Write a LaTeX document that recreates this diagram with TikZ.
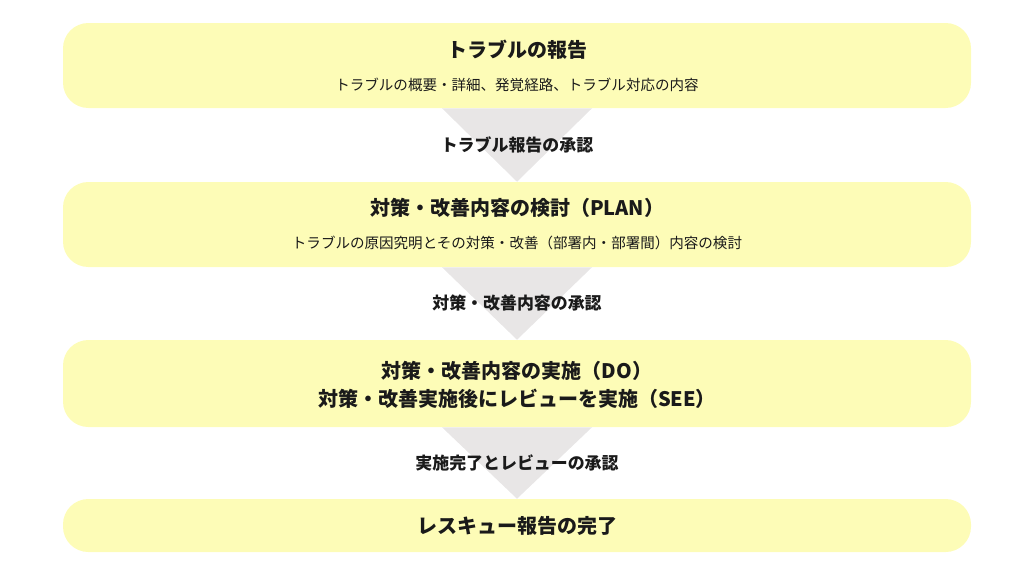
\documentclass[tikz,border=0pt]{standalone}
\usepackage{fontspec}
\setmainfont{Noto Sans CJK JP}
\usetikzlibrary{calc}

\definecolor{boxyellow}{RGB}{253,252,183}
\definecolor{trigray}{RGB}{232,230,230}
\definecolor{inkblack}{RGB}{26,26,26}

\tikzset{
  stepbox/.style={fill=boxyellow, draw=none, rounded corners=19pt, minimum width=681pt, inner sep=0pt},
  steptitle/.style={text=inkblack, font=\bfseries\fontsize{15pt}{21pt}\selectfont, inner sep=0pt, align=center},
  stepnote/.style={text=inkblack, font=\fontsize{10.9pt}{14pt}\selectfont, inner sep=0pt},
  approval/.style={text=inkblack, font=\bfseries\fontsize{12.7pt}{15pt}\selectfont, inner sep=0pt},
  flowtri/.style={fill=trigray, draw=none}
}

\begin{document}
\begin{tikzpicture}[x=0.75pt,y=0.75pt,yscale=-1,xscale=1]
\useasboundingbox (0,0) rectangle (1024,576);

% Boxes
\node [stepbox, minimum height=63.75pt] (report) at (517,65.5) {};
\node [stepbox, minimum height=63.75pt] (plan) at (517,224.5) {};
\node [stepbox, minimum height=65.25pt] (do) at (517,383.5) {};
\node [stepbox, minimum height=39.75pt] (done) at (517,525.5) {};

% Triangles between boxes
\fill [flowtri] ($(report.south)+(-75,0)$) -- ($(report.south)+(75,0)$) -- (plan.north) -- cycle;
\fill [flowtri] ($(plan.south)+(-75,0)$) -- ($(plan.south)+(75,0)$) -- (do.north) -- cycle;
\fill [flowtri] ($(do.south)+(-75,0)$) -- ($(do.south)+(75,0)$) -- (done.north) -- cycle;

% Text Node
\node [steptitle] (reporttitle) at (517,50) {トラブルの報告};
\node [stepnote] (reportnote) at (517,85) {トラブルの概要・詳細、発覚経路、トラブル対応の内容};
\node [approval] (reportok) at (517,145) {トラブル報告の承認};
% Text Node
\node [steptitle] (plantitle) at (517,208) {対策・改善内容の検討（PLAN）};
\node [stepnote] (plannote) at (517,243) {トラブルの原因究明とその対策・改善（部署内・部署間）内容の検討};
\node [approval] (planok) at (517,303) {対策・改善内容の承認};
% Text Node
\node [steptitle] (dotitle) at (517,385) {対策・改善内容の実施（DO）\\対策・改善実施後にレビューを実施（SEE）};
\node [approval] (dook) at (517,463) {実施完了とレビューの承認};
% Text Node
\node [steptitle] (donetitle) at (517,526) {レスキュー報告の完了};

\end{tikzpicture}
\end{document}
